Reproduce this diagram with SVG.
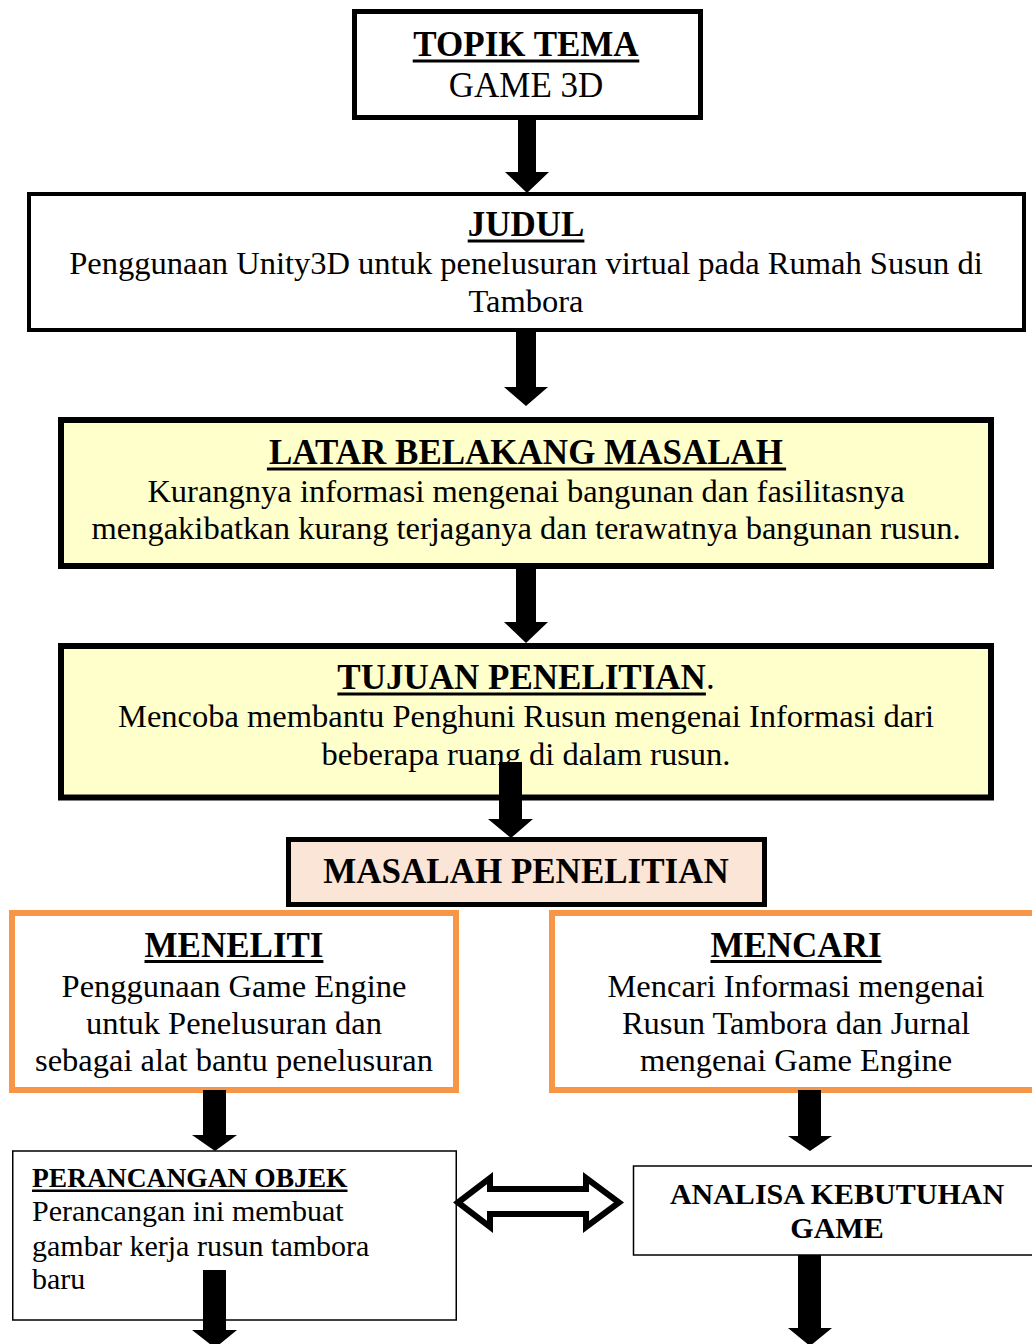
<svg xmlns="http://www.w3.org/2000/svg" width="1032" height="1344" viewBox="0 0 1032 1344">
<style>
  text { font-family: "Liberation Serif", "Times New Roman", serif; fill: #000; }
  .c { text-anchor: middle; }
  .t35 { font-size: 35px; font-weight: bold; }
  .r35 { font-size: 35px; }
  .b { font-size: 32.5px; }
  .t30 { font-size: 30px; font-weight: bold; }
  .t27 { font-size: 27.5px; font-weight: bold; }
  .r30 { font-size: 30px; }
  .ul { fill: #000; }
  .box { fill: #fff; stroke: #000; }
  .arrow { fill: #000; stroke: none; }
  .dbl { fill: #fff; stroke: #000; stroke-width: 6; stroke-linejoin: miter; stroke-miterlimit: 10; }
</style>
<rect x="0" y="0" width="1032" height="1344" fill="#fff"/>

<g id="topik">
  <rect class="box" x="354.5" y="11.5" width="346" height="106" stroke-width="5"/>
  <text class="c t35" x="526" y="56">TOPIK TEMA</text>
  <rect class="ul" x="412.7" y="59.5" width="226.6" height="3"/>
  <text class="c r35" x="526" y="97">GAME 3D</text>
</g>

<g id="judul">
  <rect class="box" x="29" y="194" width="995" height="136" stroke-width="4"/>
  <text class="c t35" x="526" y="236">JUDUL</text>
  <rect class="ul" x="467.7" y="239.5" width="116.7" height="3"/>
  <text class="c b" x="526" y="274">Penggunaan Unity3D untuk penelusuran virtual pada Rumah Susun di</text>
  <text class="c b" x="526" y="312">Tambora</text>
</g>

<g id="latar">
  <rect x="61" y="420" width="930" height="146" fill="#FFFFCC" stroke="#000" stroke-width="6"/>
  <text class="c t35" x="526" y="464">LATAR BELAKANG MASALAH</text>
  <rect class="ul" x="266.9" y="467.5" width="519.2" height="3"/>
  <text class="c b" x="526" y="502">Kurangnya informasi mengenai bangunan dan fasilitasnya</text>
  <text class="c b" x="526" y="539">mengakibatkan kurang terjaganya dan terawatnya bangunan rusun.</text>
</g>

<g id="tujuan">
  <rect x="61" y="646" width="930" height="151.5" fill="#FFFFCC" stroke="#000" stroke-width="6"/>
  <text class="c t35" x="526" y="689">TUJUAN PENELITIAN<tspan font-weight="normal">.</tspan></text>
  <rect class="ul" x="337.4" y="692.5" width="368.5" height="3"/>
  <text class="c b" x="526" y="727">Mencoba membantu Penghuni Rusun mengenai Informasi dari</text>
  <text class="c b" x="526" y="765">beberapa ruang di dalam rusun.</text>
</g>

<g id="masalah">
  <rect x="288.5" y="839.5" width="476" height="65" fill="#FBE5D6" stroke="#000" stroke-width="5"/>
  <text class="c t35" x="526" y="883">MASALAH PENELITIAN</text>
</g>

<g id="meneliti">
  <rect x="12" y="913" width="444" height="177" fill="#fff" stroke="#F79646" stroke-width="6"/>
  <text class="c t35" x="234" y="957">MENELITI</text>
  <rect class="ul" x="144.5" y="960" width="178.9" height="3"/>
  <text class="c b" x="234" y="997">Penggunaan Game Engine</text>
  <text class="c b" x="234" y="1033.5">untuk Penelusuran dan</text>
  <text class="c b" x="234" y="1070.5">sebagai alat bantu penelusuran</text>
</g>

<g id="mencari">
  <rect x="552" y="913" width="500" height="177" fill="#fff" stroke="#F79646" stroke-width="6"/>
  <text class="c t35" x="796" y="957">MENCARI</text>
  <rect class="ul" x="710.5" y="960" width="171.1" height="3"/>
  <text class="c b" x="796" y="997">Mencari Informasi mengenai</text>
  <text class="c b" x="796" y="1033.5">Rusun Tambora dan Jurnal</text>
  <text class="c b" x="796" y="1070.5">mengenai Game Engine</text>
</g>

<g id="perancangan">
  <rect class="box" x="12.75" y="1151" width="443.5" height="169" stroke-width="1.5"/>
  <text class="t27" x="32" y="1187">PERANCANGAN OBJEK</text>
  <rect class="ul" x="32" y="1189.5" width="315.5" height="2.5"/>
  <text class="r30" x="32" y="1220.5">Perancangan ini membuat</text>
  <text class="r30" x="32" y="1255.5">gambar kerja rusun tambora</text>
  <text class="r30" x="32" y="1288.5">baru</text>
</g>

<g id="analisa">
  <rect class="box" x="633.5" y="1166" width="420" height="89" stroke-width="1.5"/>
  <text class="c t30" x="837" y="1204">ANALISA KEBUTUHAN</text>
  <text class="c t30" x="837" y="1238">GAME</text>
</g>

<g id="connectors">
  <polygon class="arrow" points="518,118 536,118 536,172 549,172 527,193 505,172 518,172"/>
  <polygon class="arrow" points="516,330 536,330 536,387 548,387 526,406 504,387 516,387"/>
  <polygon class="arrow" points="516,566 536,566 536,622 548,622 526,643 504,622 516,622"/>
  <polygon class="arrow" points="499,762 522,762 522,819 533,819 511,838 488,819 499,819"/>
  <polygon class="arrow" points="203,1090 226,1090 226,1135 237,1135 215,1151 192,1135 203,1135"/>
  <polygon class="arrow" points="798,1090 821,1090 821,1136 832,1136 810,1151 788,1136 798,1136"/>
  <polygon class="arrow" points="203,1270 226,1270 226,1330 237,1330 215,1348 192,1330 203,1330"/>
  <polygon class="arrow" points="798,1255 821,1255 821,1328 832,1328 810,1346 788,1328 798,1328"/>
  <polygon class="dbl" points="458,1202.5 490,1178 490,1189 586,1189 586,1178 619,1202.5 586,1227 586,1214 490,1214 490,1227"/>
</g>
</svg>
